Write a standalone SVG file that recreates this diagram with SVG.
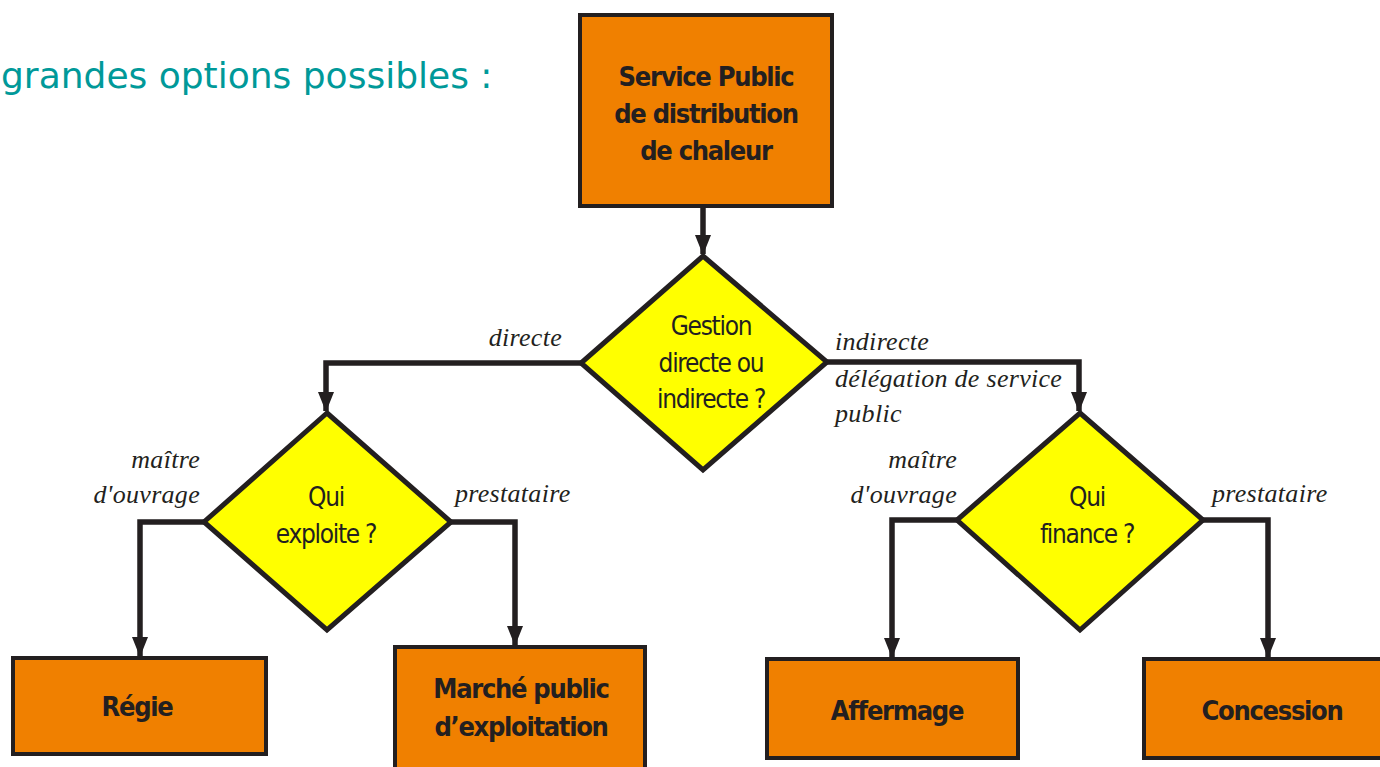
<svg xmlns="http://www.w3.org/2000/svg" width="1380" height="767" viewBox="0 0 1380 767">
<defs>
<marker id="ah" markerWidth="20" markerHeight="16" refX="19" refY="8" orient="auto" markerUnits="userSpaceOnUse" viewBox="0 0 20 16">
<path d="M0,0 L20,8 L0,16 Z" fill="#231f20"/>
</marker>
<style>
.box{fill:#f08000;stroke:#231f20;stroke-width:4}
.dia{fill:#ffff00;stroke:#231f20;stroke-width:5;stroke-linejoin:miter}
.bt{font-family:"DejaVu Sans Condensed","DejaVu Sans",sans-serif;font-weight:bold;font-size:27px;fill:#231f20;text-anchor:middle;letter-spacing:-1.3px}
.dt{font-family:"DejaVu Sans Condensed","DejaVu Sans",sans-serif;font-size:26px;fill:#231f20;text-anchor:middle;letter-spacing:-1.3px}
.lab{font-family:"Liberation Serif",serif;font-style:italic;font-size:26px;fill:#231f20;letter-spacing:0.3px}
.con{fill:none;stroke:#231f20;stroke-width:5.5;marker-end:url(#ah)}
</style>
</defs>
<rect width="1380" height="767" fill="#ffffff"/>
<text x="1" y="88" font-family="DejaVu Sans,sans-serif" font-size="36" fill="#009999">grandes options possibles :</text>

<g id="connectors">
<path class="con" d="M703,207 V254"/>
<path class="con" d="M582,363 H326 V411"/>
<path class="con" d="M826,362 H1079 V411"/>
<path class="con" d="M205,522 H140 V656"/>
<path class="con" d="M449,522 H515 V645"/>
<path class="con" d="M959,520 H892 V657"/>
<path class="con" d="M1201,520 H1268 V657"/>
</g>

<g id="labels">
<text class="lab" x="562" y="346" text-anchor="end">directe</text>
<text class="lab" x="835" y="350">indirecte</text>
<text class="lab" x="835" y="387">délégation de service</text>
<text class="lab" x="835" y="422">public</text>
<text class="lab" x="200" y="468" text-anchor="end">maître</text>
<text class="lab" x="200" y="503" text-anchor="end">d'ouvrage</text>
<text class="lab" x="455" y="502">prestataire</text>
<text class="lab" x="957" y="468" text-anchor="end">maître</text>
<text class="lab" x="957" y="503" text-anchor="end">d'ouvrage</text>
<text class="lab" x="1212" y="502">prestataire</text>
</g>

<g id="n-service">
<rect class="box" x="580" y="15" width="252" height="191"/>
<text class="bt" x="706" y="86">Service Public</text>
<text class="bt" x="706" y="123">de distribution</text>
<text class="bt" x="706" y="160">de chaleur</text>
</g>

<g id="n-gestion">
<polygon class="dia" points="703,256 827,362 703,470 581,363"/>
<text class="dt" x="711" y="335">Gestion</text>
<text class="dt" x="711" y="372">directe ou</text>
<text class="dt" x="711" y="408">indirecte ?</text>
</g>

<g id="n-exploite">
<polygon class="dia" points="327,413 451,522 327,630 204,522"/>
<text class="dt" x="326" y="506">Qui</text>
<text class="dt" x="326" y="543">exploite ?</text>
</g>

<g id="n-finance">
<polygon class="dia" points="1080,413 1203,520 1080,630 957,520"/>
<text class="dt" x="1087" y="506">Qui</text>
<text class="dt" x="1087" y="543">finance ?</text>
</g>

<g id="n-regie">
<rect class="box" x="13" y="658" width="253" height="96"/>
<text class="bt" x="137" y="716">Régie</text>
</g>

<g id="n-marche">
<rect class="box" x="395" y="647" width="250" height="125"/>
<text class="bt" x="521" y="698">Marché public</text>
<text class="bt" x="521" y="736">d’exploitation</text>
</g>

<g id="n-affermage">
<rect class="box" x="767" y="659" width="251" height="99"/>
<text class="bt" x="897" y="720">Affermage</text>
</g>

<g id="n-concession">
<rect class="box" x="1144" y="659" width="250" height="99"/>
<text class="bt" x="1272" y="720">Concession</text>
</g>
</svg>
